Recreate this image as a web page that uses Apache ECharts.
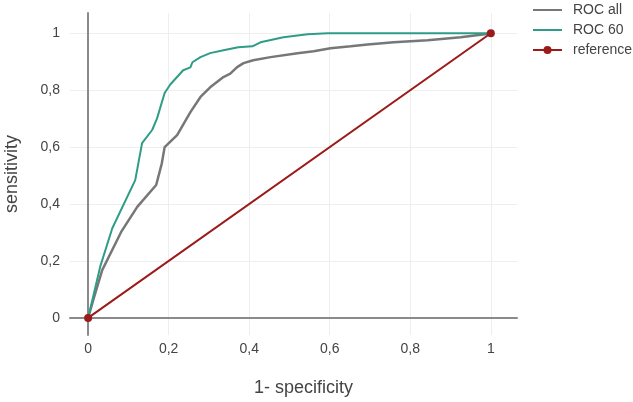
<!DOCTYPE html>
<html>
<head>
<meta charset="utf-8">
<script src="https://cdn.jsdelivr.net/npm/echarts@6/dist/echarts.min.js"></script>
<style>
  html, body { margin: 0; padding: 0; background: #fff; }
  #chart { width: 633px; height: 402px; }
</style>
</head>
<body>
<div id="chart"></div>
<script>
const tickValues = [0, 0.2, 0.4, 0.6, 0.8, 1];

const rocAllFpr = [0, 0.015, 0.035, 0.082, 0.122, 0.169, 0.183, 0.19, 0.221, 0.254, 0.279, 0.303, 0.336, 0.353, 0.37, 0.386, 0.41, 0.453, 0.52, 0.56, 0.602, 0.652, 0.694, 0.759, 0.843, 0.925, 0.995, 1];
const rocAllTpr = [0, 0.074, 0.168, 0.302, 0.39, 0.467, 0.543, 0.6, 0.642, 0.723, 0.776, 0.81, 0.846, 0.858, 0.881, 0.895, 0.905, 0.916, 0.93, 0.937, 0.947, 0.954, 0.96, 0.968, 0.975, 0.986, 0.998, 1];

const roc60Fpr = [0, 0.03, 0.06, 0.117, 0.134, 0.159, 0.171, 0.19, 0.204, 0.236, 0.254, 0.259, 0.279, 0.303, 0.336, 0.373, 0.408, 0.428, 0.485, 0.545, 0.595, 1];
const roc60Tpr = [0, 0.18, 0.315, 0.484, 0.614, 0.66, 0.70, 0.79, 0.82, 0.87, 0.88, 0.898, 0.916, 0.93, 0.94, 0.951, 0.954, 0.968, 0.986, 0.996, 1, 1];

const refFpr = [0, 1];
const refTpr = [0, 1];

const zip = (xs, ys) => xs.map((x, i) => [x, ys[i]]);
const fmt = v => String(Math.round(v * 10) / 10).replace('.', ',');
const font = '"Liberation Sans", Arial, sans-serif';

const chart = echarts.init(document.getElementById('chart'), null, { renderer: 'canvas' });
chart.setOption({
  animation: false,
  textStyle: { fontFamily: font },
  grid: { left: 70, right: 116, top: 13, bottom: 67, containLabel: false, outerBoundsMode: 'none' },
  legend: {
    orient: 'vertical', left: 532, top: 3, padding: 0, itemWidth: 29, itemHeight: 10, itemGap: 6,
    textStyle: { color: '#444', fontSize: 14, fontFamily: font, padding: [0, 0, 0, 6] },
    data: [
      { name: 'ROC all', itemStyle: { opacity: 0 } },
      { name: 'ROC 60', itemStyle: { opacity: 0 } },
      { name: 'reference' }
    ]
  },
  xAxis: {
    type: 'value', min: -0.045, max: 1.065,
    name: '1- specificity', nameLocation: 'middle', nameGap: 44, nameMoveOverlap: false,
    nameTextStyle: { color: '#444', fontSize: 18, fontFamily: font, padding: [0, 0, 0, 20] },
    axisLine: { onZero: true, lineStyle: { color: '#8a8a8a', width: 2 } },
    axisTick: { show: false, customValues: tickValues },
    axisLabel: { customValues: tickValues, formatter: fmt, color: '#444', fontSize: 14, margin: 7 },
    splitLine: { show: true, lineStyle: { color: '#eeeeee', width: 1 } }
  },
  yAxis: {
    type: 'value', min: -0.06, max: 1.071,
    name: 'sensitivity', nameLocation: 'middle', nameGap: 49, nameMoveOverlap: false,
    nameTextStyle: { color: '#444', fontSize: 18, fontFamily: font },
    axisLine: { onZero: true, lineStyle: { color: '#8a8a8a', width: 2 } },
    axisTick: { show: false, customValues: tickValues },
    axisLabel: { customValues: tickValues, formatter: fmt, color: '#444', fontSize: 14, margin: 10 },
    splitLine: { show: true, lineStyle: { color: '#eeeeee', width: 1 } }
  },
  series: [
    { name: 'ROC all', type: 'line', data: zip(rocAllFpr, rocAllTpr), symbol: 'none',
      lineStyle: { color: '#777777', width: 2.5 }, itemStyle: { color: '#777777' } },
    { name: 'ROC 60', type: 'line', data: zip(roc60Fpr, roc60Tpr), symbol: 'none',
      lineStyle: { color: '#2f9c88', width: 2 }, itemStyle: { color: '#2f9c88' } },
    { name: 'reference', type: 'line', data: zip(refFpr, refTpr), symbol: 'circle', symbolSize: 8,
      lineStyle: { color: '#9b1a1a', width: 2 }, itemStyle: { color: '#9b1a1a' } }
  ]
});
</script>
</body>
</html>
